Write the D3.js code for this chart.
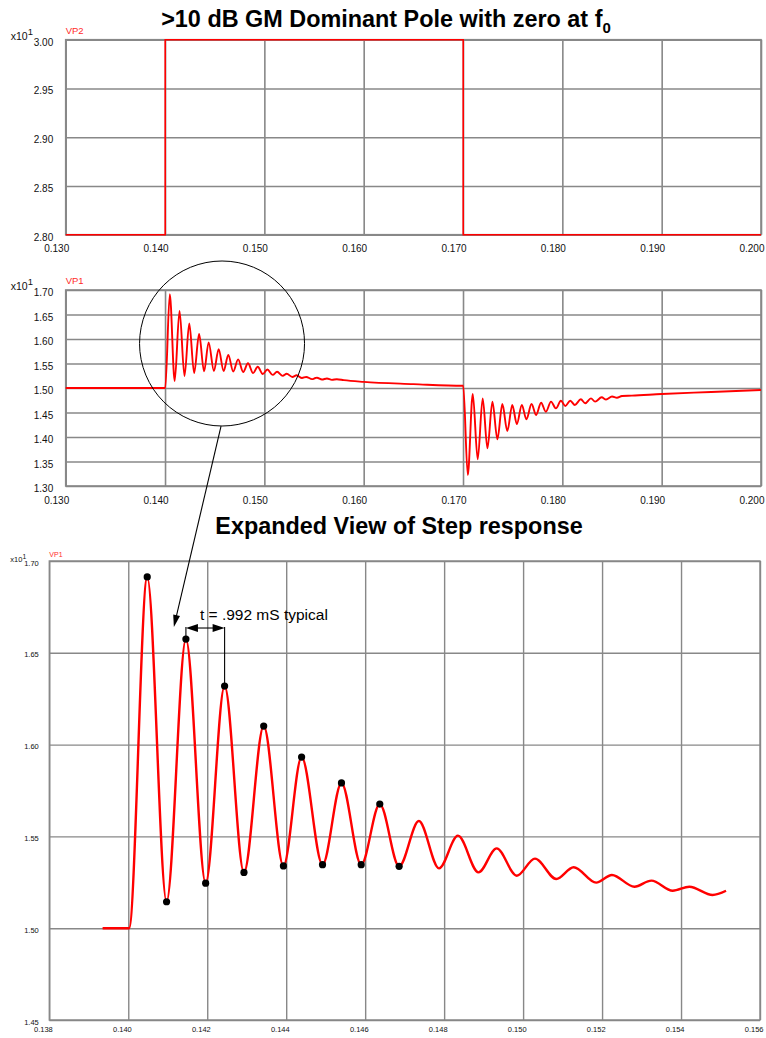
<!DOCTYPE html>
<html>
<head>
<meta charset="utf-8">
<script src="https://cdn.jsdelivr.net/npm/d3@7"></script>
<style>
  html, body { margin: 0; padding: 0; background: #fff; }
  svg { display: block; font-family: "Liberation Sans", Arial, sans-serif; }
</style>
</head>
<body>
<svg id="chart" width="766" height="1038"></svg>
<script>
// ---- VP2: drive step (x10^1 V) ----
const vp2Time  = [0.130, 0.14002, 0.14002, 0.17002, 0.17002, 0.200];
const vp2Value = [2.80, 2.80, 3.00, 3.00, 2.80, 2.80];

// ---- VP1: ringing after the rising step (x10^1 V) ----
const riseTime  = [0.13935, 0.14002, 0.14048, 0.14097, 0.14146, 0.14196, 0.14244, 0.14293,
                   0.14343, 0.14393, 0.14439, 0.14492, 0.14540, 0.14590, 0.14637, 0.14686,
                   0.14736, 0.14787, 0.14835, 0.14887, 0.14933, 0.14984, 0.15030, 0.15084,
                   0.15128, 0.15185, 0.15225, 0.15282, 0.15325, 0.15379, 0.15421, 0.15480, 0.15514];
const riseValue = [1.500, 1.500, 1.6913, 1.5144, 1.6575, 1.5245, 1.6319, 1.5304,
                   1.6101, 1.5339, 1.5932, 1.5346, 1.5791, 1.5346, 1.5676, 1.5337,
                   1.5584, 1.5326, 1.5504, 1.5304, 1.5435, 1.5286, 1.5379, 1.5268,
                   1.5332, 1.5248, 1.5290, 1.5226, 1.5259, 1.5204, 1.5226, 1.5181, 1.5204];

// ---- VP1: slow settling before the falling step ----
const settleTime  = [0.1553, 0.1558, 0.1563, 0.1568, 0.1573, 0.1580, 0.1600, 0.1650, 0.1700];
const settleValue = [1.5210, 1.5172, 1.5195, 1.5165, 1.5180, 1.5160, 1.5125, 1.5080, 1.5045];

// ---- VP1: ringing after the falling step ----
const fallTime  = [0.17002, 0.17048, 0.17098, 0.17148, 0.17198, 0.17246, 0.17296, 0.17346,
                   0.17396, 0.17446, 0.17496, 0.17542, 0.17592, 0.17638, 0.17690, 0.17736,
                   0.17786, 0.17834, 0.17886, 0.17935, 0.17986, 0.18030, 0.18080, 0.18126,
                   0.18186, 0.18230, 0.18288, 0.18330, 0.18396];
const fallValue = [1.5045, 1.3224, 1.4878, 1.3545, 1.4789, 1.3769, 1.4721, 1.3953,
                   1.4673, 1.4122, 1.4653, 1.4265, 1.4653, 1.4361, 1.4673, 1.4449,
                   1.4700, 1.4516, 1.4721, 1.4585, 1.4741, 1.4633, 1.4741, 1.4653,
                   1.4769, 1.4688, 1.4789, 1.4721, 1.4810];

// ---- VP1: recovery toward the 15 V level ----
const recoverTime  = [0.1844, 0.1850, 0.1855, 0.1860, 0.1870, 0.1900, 0.1950, 0.2000];
const recoverValue = [1.4765, 1.4828, 1.4800, 1.4838, 1.4845, 1.4878, 1.4918, 1.4959];

// ---- axis ticks ----
const overviewTicksX = [0.130, 0.140, 0.150, 0.160, 0.170, 0.180, 0.190, 0.200];
const vp2TicksY      = [2.80, 2.85, 2.90, 2.95, 3.00];
const vp1TicksY      = [1.30, 1.35, 1.40, 1.45, 1.50, 1.55, 1.60, 1.65, 1.70];
const detailTicksX   = [0.138, 0.140, 0.142, 0.144, 0.146, 0.148, 0.150, 0.152, 0.154, 0.156];
const detailTicksY   = [1.45, 1.50, 1.55, 1.60, 1.65, 1.70];

// first 7 peaks and 7 troughs are marked with dots
const markedFirst = 2, markedCount = 14;
// annotated ringing period (peak 2 to peak 3)
const periodLabel = "t = .992 mS typical";
const periodFrom = 4, periodTo = 6;

const zip = (ts, vs) => ts.map((t, i) => [t, vs[i]]);
const riseData = zip(riseTime, riseValue);
const vp1Data = [[0.130, 1.500]].concat(riseData, zip(settleTime, settleValue),
                                        zip(fallTime, fallValue), zip(recoverTime, recoverValue));
const vp2Data = zip(vp2Time, vp2Value);

const svg = d3.select("#chart");
const GRID = "#888888";
const RED = "#ff0000";

function panel(cfg) {
  const x = d3.scaleLinear().domain(cfg.xDomain).range([cfg.left, cfg.right]);
  const y = d3.scaleLinear().domain(cfg.yDomain).range([cfg.bottom, cfg.top]);
  const w = cfg.right - cfg.left, h = cfg.bottom - cfg.top;
  const g = svg.append("g");

  const gx = g.append("g")
    .attr("transform", `translate(0,${cfg.bottom})`)
    .call(d3.axisBottom(x).tickValues(cfg.xTicks).tickSizeInner(-h).tickSizeOuter(0)
      .tickFormat(d3.format(".3f")));
  gx.select(".domain").remove();
  gx.attr("font-family", null).attr("font-size", cfg.tickFont).attr("color", "#000");
  gx.selectAll("line").attr("stroke", GRID).attr("stroke-width", cfg.gridW);
  gx.selectAll("text").attr("text-anchor", "end").attr("x", cfg.xLabelDx)
    .attr("y", cfg.xLabelDy).attr("dy", null).attr("fill", "#111");

  const gy = g.append("g")
    .attr("transform", `translate(${cfg.left},0)`)
    .call(d3.axisLeft(y).tickValues(cfg.yTicks).tickSizeInner(-w).tickSizeOuter(0)
      .tickFormat(d3.format(".2f")));
  gy.select(".domain").remove();
  gy.attr("font-family", null).attr("font-size", cfg.tickFont).attr("color", "#000");
  gy.selectAll("line").attr("stroke", GRID).attr("stroke-width", cfg.gridW);
  gy.selectAll("text").attr("text-anchor", "end").attr("x", -cfg.yLabelDx)
    .attr("dy", null).attr("y", cfg.yLabelDy).attr("fill", "#111");

  g.append("rect")
    .attr("x", cfg.left).attr("y", cfg.top).attr("width", w).attr("height", h)
    .attr("fill", "none").attr("stroke", GRID).attr("stroke-width", cfg.gridW);

  // scale factor label
  const sf = g.append("text").attr("x", cfg.left - cfg.sfDx).attr("y", cfg.top + cfg.sfDy)
    .attr("font-size", cfg.sfFont).attr("fill", "#111");
  sf.append("tspan").text("x10");
  sf.append("tspan").attr("dy", -cfg.sfFont * 0.45).attr("font-size", cfg.sfFont * 0.9).text("1");

  // trace name
  g.append("text").attr("x", cfg.left).attr("y", cfg.top - cfg.nameDy)
    .attr("font-size", cfg.nameFont).attr("fill", "#ff2a2a").text(cfg.name);

  return { g, x, y };
}

// ---------- title ----------
const title = svg.append("text").attr("x", 386).attr("y", 27)
  .attr("text-anchor", "middle").attr("font-size", 23.4).attr("font-weight", "bold");
title.append("tspan").text(">10 dB GM Dominant Pole with zero at f");
title.append("tspan").attr("dy", 6).attr("font-size", 15).text("0");

// ---------- VP2 overview ----------
const p1 = panel({
  left: 65.7, right: 761, top: 39.7, bottom: 234.7,
  xDomain: [0.130, 0.200], yDomain: [2.80, 3.00],
  xTicks: overviewTicksX, yTicks: vp2TicksY,
  tickFont: 10, gridW: 1.6, xLabelDx: 3, xLabelDy: 17.5, yLabelDx: 12.5, yLabelDy: 5.5,
  sfDx: 55, sfDy: 0, sfFont: 10.5, name: "VP2", nameDy: 5.5, nameFont: 9.5
});
p1.g.append("path").datum(vp2Data)
  .attr("d", d3.line().x(d => p1.x(d[0])).y(d => p1.y(d[1])))
  .attr("fill", "none").attr("stroke", RED).attr("stroke-width", 1.6);

// ---------- VP1 overview ----------
const p2 = panel({
  left: 65.7, right: 761, top: 290, bottom: 486,
  xDomain: [0.130, 0.200], yDomain: [1.30, 1.70],
  xTicks: overviewTicksX, yTicks: vp1TicksY,
  tickFont: 10, gridW: 1.6, xLabelDx: 3, xLabelDy: 17.5, yLabelDx: 12.5, yLabelDy: 5.5,
  sfDx: 55, sfDy: -0.5, sfFont: 10.5, name: "VP1", nameDy: 6, nameFont: 9.5
});
p2.g.append("path").datum(vp1Data)
  .attr("d", d3.line().curve(d3.curveMonotoneX).x(d => p2.x(d[0])).y(d => p2.y(d[1])))
  .attr("fill", "none").attr("stroke", RED).attr("stroke-width", 1.9).attr("stroke-linejoin", "round");

// ---------- second title ----------
svg.append("text").attr("x", 399).attr("y", 534).attr("text-anchor", "middle")
  .attr("font-size", 23.4).attr("font-weight", "bold").text("Expanded View of Step response");

// ---------- VP1 detail ----------
const p3 = panel({
  left: 49.3, right: 760, top: 561, bottom: 1020,
  xDomain: [0.138, 0.156], yDomain: [1.45, 1.70],
  xTicks: detailTicksX, yTicks: detailTicksY,
  tickFont: 7.5, gridW: 1.4, xLabelDx: 3, xLabelDy: 12, yLabelDx: 10.5, yLabelDy: 4,
  sfDx: 39, sfDy: 1, sfFont: 7.5, name: "VP1", nameDy: 4, nameFont: 7
});
p3.g.append("path").datum(riseData)
  .attr("d", d3.line().curve(d3.curveMonotoneX).x(d => p3.x(d[0])).y(d => p3.y(d[1])))
  .attr("fill", "none").attr("stroke", RED).attr("stroke-width", 2.4).attr("stroke-linejoin", "round");

p3.g.selectAll("circle.ext").data(riseData.slice(markedFirst, markedFirst + markedCount))
  .join("circle").attr("class", "ext")
  .attr("cx", d => p3.x(d[0])).attr("cy", d => p3.y(d[1])).attr("r", 3.6).attr("fill", "#000");

// ---------- annotations ----------
function arrowHead(tipX, tipY, angle, len, half) {
  const bx = tipX - len * Math.cos(angle), by = tipY - len * Math.sin(angle);
  const px = -Math.sin(angle) * half, py = Math.cos(angle) * half;
  svg.append("path")
    .attr("d", `M${tipX},${tipY}L${bx + px},${by + py}L${bx - px},${by - py}Z`)
    .attr("fill", "#000");
}

// magnifier circle around the rising-step ringing
const ringCenter = [0.14574, 1.5908];
const ringR = 82.5;
const cx = p2.x(ringCenter[0]), cy = p2.y(ringCenter[1]);
svg.append("circle").attr("cx", cx).attr("cy", cy).attr("r", ringR)
  .attr("fill", "none").attr("stroke", "#000").attr("stroke-width", 1);

// leader to the expanded view
const tip = [0.141155, 1.6641];
const tx = p3.x(tip[0]), ty = p3.y(tip[1]);
const sx = cx - 1, sy = cy + ringR;
const ang = Math.atan2(ty - sy, tx - sx);
svg.append("line").attr("x1", sx).attr("y1", sy)
  .attr("x2", tx - 10 * Math.cos(ang)).attr("y2", ty - 10 * Math.sin(ang))
  .attr("stroke", "#000").attr("stroke-width", 1.1);
arrowHead(tx, ty, ang, 12, 3.5);

// period dimension between two peaks
const dimValue = 1.6635;
const pa = riseData[periodFrom], pb = riseData[periodTo];
const xa = p3.x(pa[0]), xb = p3.x(pb[0]), yd = p3.y(dimValue);
svg.append("line").attr("x1", xa).attr("x2", xa).attr("y1", yd - 1).attr("y2", p3.y(pa[1]))
  .attr("stroke", "#000").attr("stroke-width", 1.1);
svg.append("line").attr("x1", xb).attr("x2", xb).attr("y1", yd - 1).attr("y2", p3.y(pb[1]))
  .attr("stroke", "#000").attr("stroke-width", 1.1);
svg.append("line").attr("x1", xa + 10).attr("x2", xb - 10).attr("y1", yd).attr("y2", yd)
  .attr("stroke", "#000").attr("stroke-width", 1.1);
arrowHead(xa, yd, Math.PI, 12, 4);
arrowHead(xb, yd, 0, 12, 4);
svg.append("text").attr("x", xa + 14).attr("y", yd - 8).attr("font-size", 15.5)
  .attr("fill", "#000").text(periodLabel);
</script>
</body>
</html>
